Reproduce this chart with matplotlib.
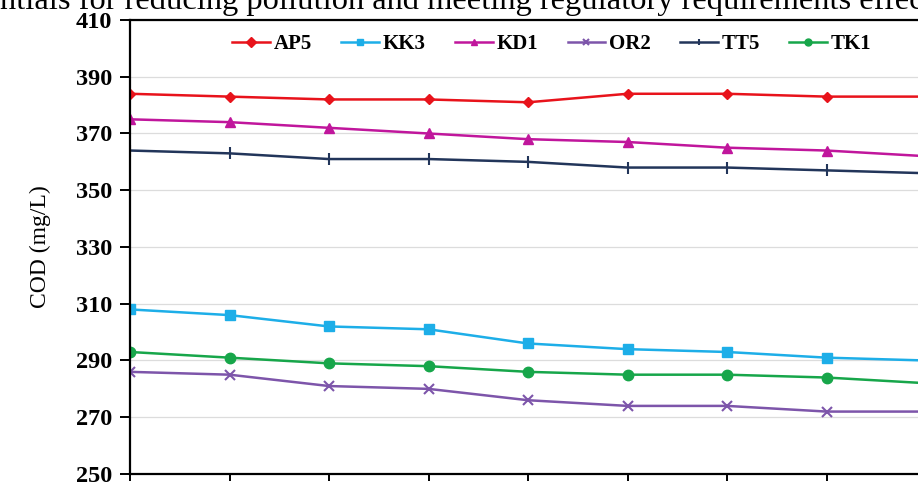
import matplotlib.pyplot as plt
import numpy as np

# COD readings per sampling point
weeks = np.arange(9)
AP5 = [384, 383, 382, 382, 381, 384, 384, 383, 383]
KK3 = [308, 306, 302, 301, 296, 294, 293, 291, 290]
KD1 = [375, 374, 372, 370, 368, 367, 365, 364, 362]
OR2 = [286, 285, 281, 280, 276, 274, 274, 272, 272]
TT5 = [364, 363, 361, 361, 360, 358, 358, 357, 356]
TK1 = [293, 291, 289, 288, 286, 285, 285, 284, 282]

y_ticks = [250, 270, 290, 310, 330, 350, 370, 390, 410]

series = [
    ("AP5", AP5, "#e8131b", "D", 5.5),
    ("KK3", KK3, "#1daee8", "s", 7.5),
    ("KD1", KD1, "#c0169c", "^", 7.5),
    ("OR2", OR2, "#7d55aa", "x", 7),
    ("TT5", TT5, "#22355a", "|", 8),
    ("TK1", TK1, "#17a64a", "o", 7.5),
]

serif = "Liberation Serif"

fig = plt.figure(figsize=(9.18, 4.83), dpi=100)
ax = fig.add_axes([130 / 918, 9 / 483, 895.5 / 918, 454 / 483])

for name, vals, col, mk, ms in series:
    ax.plot(weeks, vals, color=col, marker=mk, markersize=ms, lw=1.8,
            markeredgewidth=1.5 if mk in "x|" else 1.0, label=name)

ax.set_xlim(0, 9)
ax.set_ylim(250, 410)
ax.set_yticks(y_ticks)
ax.set_xticks(np.arange(10))
ax.set_xticklabels([])
ax.grid(axis="y", color="#dcdcdc", lw=0.9)
ax.set_axisbelow(True)

for s in ax.spines.values():
    s.set_linewidth(1.6)
    s.set_color("black")

ax.tick_params(axis="y", direction="out", length=7, width=1.4, pad=6)
ax.tick_params(axis="x", direction="out", length=5, width=1.4)
for lab in ax.get_yticklabels():
    lab.set_fontfamily(serif)
    lab.set_fontweight("bold")
    lab.set_fontsize(17.5)

ax.set_ylabel("COD (mg/L)", fontfamily=serif, fontsize=17, labelpad=18)

leg = fig.legend(loc="center", bbox_to_anchor=(552 / 918, 1 - 44 / 483),
                 ncol=6, frameon=False, handlelength=1.8, handletextpad=0.2,
                 columnspacing=1.4, prop={"family": serif, "weight": "bold", "size": 15})
for h in leg.legend_handles:
    h.set_markersize(5)

fig.text(0.0, 1 - 9 / 483, "ntials for reducing pollution and meeting regulatory requirements effec",
         fontfamily=serif, fontsize=23.4, va="baseline", ha="left")

fig.savefig("out.png", dpi=100)
